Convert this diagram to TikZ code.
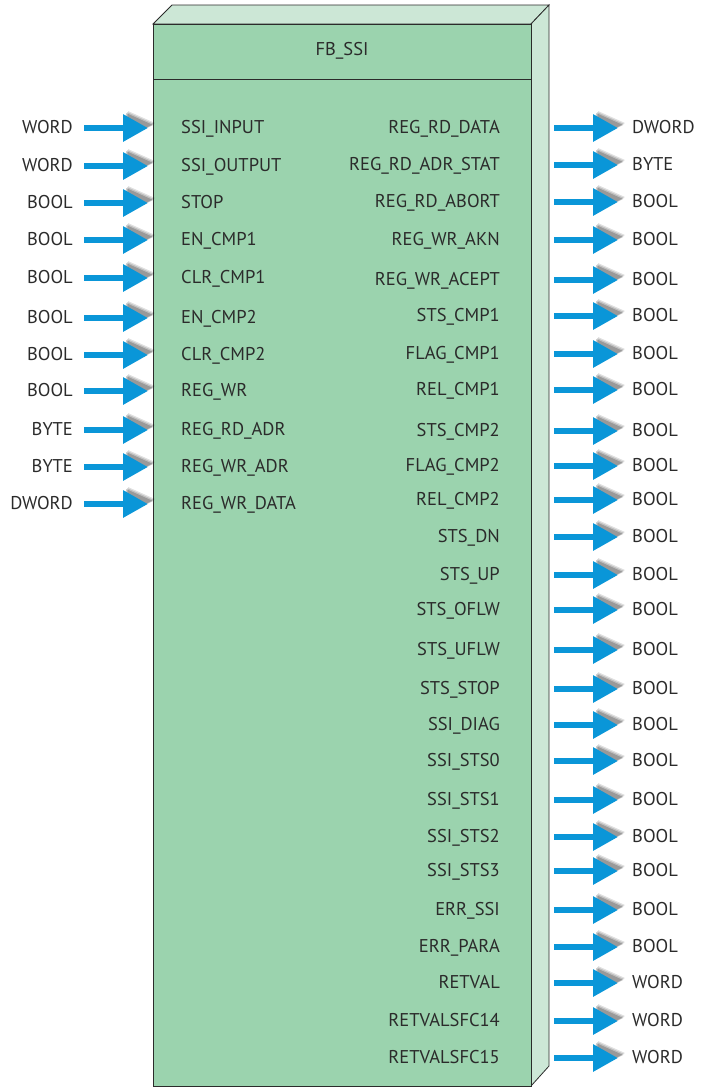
\documentclass[tikz,border=0pt]{standalone}
\usepackage{fontspec}
\setmainfont{PT Sans}
\usetikzlibrary{arrows.meta,calc}
\definecolor{front}{HTML}{9BD3AE}
\definecolor{light}{HTML}{CCE7D6}
\definecolor{arrowblue}{HTML}{0A96D8}
\definecolor{txt}{HTML}{2B2B2B}
\begin{document}
\begin{tikzpicture}[x=1pt,y=-1pt,
  lbl/.style={font=\fontsize{18.5}{20}\selectfont, text=txt, inner sep=0pt},
  pinarrow/.style={line width=6pt, arrowblue, -{Triangle[length=25pt,width=26pt]}},
  outline/.style={draw=txt, line width=0.8pt}]
\useasboundingbox (0,0) rectangle (705,1087);
% block body
\fill[light, outline] (153,24) -- (172,5) -- (549,5) -- (531,24) -- cycle;
\fill[light, outline] (531,24) -- (549,5) -- (549,1066) -- (531,1086) -- cycle;
\fill[front, outline] (153,24) rectangle (531,1086);
\draw[txt, line width=0.8pt] (153,79) -- (531,79);
\node[lbl, anchor=base] (title) at (342,55) {FB\_SSI};
% soft shadow of an arrow head whose tip is at #1
\newcommand\headshadow[1]{%
  \foreach \k/\o in {3/0.12,2/0.15,1/0.2}{
    \fill[black, opacity=\o] ($(#1)+(-25+\k+2,-13-\k-1)$) -- ($(#1)+(\k+4,-\k-2)$) -- ($(#1)+(-25+\k+2,13-\k-1)$) -- cycle;
  }}
% inputs
\foreach \ty/\nm/\y [count=\i] in {WORD/SSI\_INPUT/127, WORD/SSI\_OUTPUT/165, BOOL/STOP/202, BOOL/EN\_CMP1/239, BOOL/CLR\_CMP1/277, BOOL/EN\_CMP2/317, BOOL/CLR\_CMP2/354, BOOL/REG\_WR/390, BYTE/REG\_RD\_ADR/429, BYTE/REG\_WR\_ADR/466, DWORD/REG\_WR\_DATA/503}{
  \node[lbl, anchor=base east] (it\i) at (73,\y+6.5) {\ty};
  \node[lbl, anchor=base west] (in\i) at (181,\y+6.5) {\nm};
  \coordinate (ia\i) at (84,\y+1);
  \coordinate (ib\i) at (148,\y+1);
  \headshadow{ib\i}
  \draw[pinarrow] (ia\i) -- (ib\i);
}
% outputs
\foreach \nm/\ty/\y [count=\i] in {REG\_RD\_DATA/DWORD/127, REG\_RD\_ADR\_STAT/BYTE/164, REG\_RD\_ABORT/BOOL/201, REG\_WR\_AKN/BOOL/239, REG\_WR\_ACEPT/BOOL/279, STS\_CMP1/BOOL/315, FLAG\_CMP1/BOOL/353, REL\_CMP1/BOOL/389, STS\_CMP2/BOOL/430, FLAG\_CMP2/BOOL/465, REL\_CMP2/BOOL/499, STS\_DN/BOOL/536, STS\_UP/BOOL/574, STS\_OFLW/BOOL/609, STS\_UFLW/BOOL/649, STS\_STOP/BOOL/688, SSI\_DIAG/BOOL/724, SSI\_STS0/BOOL/760, SSI\_STS1/BOOL/799, SSI\_STS2/BOOL/836, SSI\_STS3/BOOL/870, ERR\_SSI/BOOL/909, ERR\_PARA/BOOL/946, RETVAL/WORD/982, RETVALSFC14/WORD/1020, RETVALSFC15/WORD/1057}{
  \node[lbl, anchor=base east] (on\i) at (500,\y+6.5) {\nm};
  \node[lbl, anchor=base west] (ot\i) at (632,\y+6.5) {\ty};
  \coordinate (oa\i) at (554,\y+1);
  \coordinate (ob\i) at (618,\y+1);
  \headshadow{ob\i}
  \draw[pinarrow] (oa\i) -- (ob\i);
}
\end{tikzpicture}
\end{document}
